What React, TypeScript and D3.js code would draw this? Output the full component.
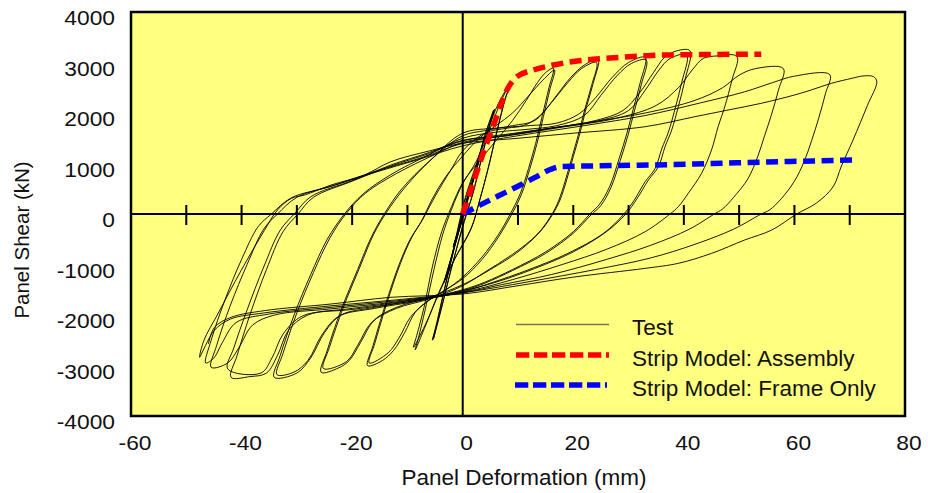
import React from "react";
import * as d3 from "d3";

type P = [number, number];

// Axis ticks
const xTickLabels = [-60, -40, -20, 0, 20, 40, 60, 80];
const yTickLabels = [-4000, -3000, -2000, -1000, 0, 1000, 2000, 3000, 4000];
const xMinorTicks = [-50, -40, -30, -20, -10, 10, 20, 30, 40, 50, 60, 70];

// Strip model curves [mm, kN]
const assembly: P[] = [
  [0, 0], [2, 650], [4, 1300], [5.5, 1730], [7, 2200], [8, 2455], [9.8, 2719],
  [12.8, 2851], [16.4, 2950], [20, 3020], [23.6, 3063], [28.5, 3102], [34, 3140],
  [42, 3155], [54, 3165],
];
const frameOnly: P[] = [
  [0, 0], [3, 170], [6.5, 360], [9.8, 540], [13, 720], [16.4, 905], [17.6, 937],
  [25, 955], [34, 970], [45, 1000], [55, 1030], [65, 1055], [70.5, 1070],
];

// Test record, cycle by cycle [mm, kN]
const testA: P[] = [
  [0, 0], [0.8, 300], [1.6, 600], [0.9, 330], [0, 20], [-0.8, -310], [-1.7, -640], [-0.9, -350], [0, -30],
  [0.8, 320], [1.7, 620], [0.9, 340], [0, 30], [-0.8, -320], [-1.7, -650], [-0.8, -320], [0, -20],
];
const testB: P[] = [
  [1.6, 540], [3.2, 1150], [2.3, 860], [1, 360], [-0.3, -180], [-1.8, -750], [-3.3, -1330], [-2.3, -980], [-1, -470], [0, -60],
  [1.7, 580], [3.3, 1180], [2.4, 880], [1.1, 390], [-0.2, -150], [-1.7, -720], [-3.4, -1360], [-2.4, -1000], [-1.1, -490], [0, -80],
];
const testC: P[] = [
  [2, 700], [4, 1550], [5.6, 2060], [4.7, 1700], [3.3, 1050], [1.8, 400], [0.3, -150], [-2, -1050], [-3.8, -1850], [-5.3, -2480],
  [-4.6, -2150], [-3.4, -1550], [-2, -900], [-0.6, -200], [0.5, 300],
  [2.3, 900], [4.2, 1620], [5.8, 2080], [4.9, 1740], [3.4, 1100], [1.9, 420], [0.3, -120], [-2.1, -1100], [-4, -1920], [-5.5, -2500],
  [-4.8, -2200], [-3.6, -1620], [-2.2, -950], [-0.8, -250], [0.4, 300],
];
const testD: P[] = [
  [2.5, 1000], [4.5, 1650], [6.5, 2200], [8.5, 2560], [7.6, 2250], [6.2, 1650], [4.6, 900], [3, 250], [1.5, -300], [-1.5, -900],
  [-4.5, -1600], [-6.5, -2150], [-8.6, -2690], [-8.0, -2450], [-6.8, -1900], [-5.2, -1100], [-3.6, -400], [-2, 100], [0, 600],
  [2.5, 1050], [5, 1700], [7, 2250], [8.6, 2580], [7.7, 2280], [6.3, 1680], [4.7, 950], [3.1, 280], [1.6, -260], [-1.4, -880],
  [-4.2, -1550], [-6.8, -2200], [-8.9, -2640], [-8.3, -2400], [-7, -1850], [-5.5, -1050], [-3.8, -350], [-2, 150], [0, 620],
];
const testE: P[] = [
  [3, 1050], [6, 1450], [9, 1850], [11.5, 2250], [13.5, 2600], [15, 2800], [16.4, 2885], [15.6, 2500], [14.4, 1950], [13.2, 1400],
  [11.9, 900], [10.4, 400], [8.6, 0], [6.5, -400], [3.5, -850], [0, -1250], [-3, -1500], [-6, -1700], [-8.6, -1950], [-10.5, -2350],
  [-12.5, -2700], [-14.5, -2900], [-17.2, -3003], [-16.2, -2600], [-14, -1800], [-11.5, -1000], [-9.5, -500], [-7.5, -150], [-5.5, 300], [-3, 750],
  [0, 1150],
  [3, 1500], [6, 1750], [9, 2000], [12, 2350], [14.5, 2650], [16.6, 2850], [15.8, 2480], [14.6, 1930], [13.4, 1380], [12.1, 880],
  [10.6, 380], [8.8, -20], [6.5, -450], [3.5, -900], [0, -1280], [-4, -1560], [-7, -1780], [-9.5, -2050], [-11.5, -2450], [-13.5, -2750],
  [-16.9, -2950], [-15.9, -2560], [-13.7, -1760], [-11.2, -960], [-9.2, -460], [-7.2, -100], [-5, 350], [-2, 900], [0, 1250],
];
const testF: P[] = [
  [4, 1600], [8, 1700], [11, 1750], [14, 1950], [17, 2350], [19.5, 2700], [22, 2950], [24.5, 3063], [23.6, 2588], [22.4, 2125],
  [21.2, 1598], [20, 1135], [18.8, 673], [17.6, 277], [16.3, 0], [14, -350], [10, -750], [5, -1100], [0, -1400], [-6, -1650],
  [-12, -1850], [-16, -2100], [-18.5, -2550], [-20.5, -2900], [-22.5, -3050], [-25.6, -3135], [-24.5, -2700], [-22, -1900], [-19, -1100], [-16.5, -450],
  [-14.2, 0], [-11, 500], [-6, 1050], [0, 1550],
  [4, 1650], [9, 1750], [13, 1850], [16, 2200], [19, 2600], [21.5, 2880], [24.2, 3000], [23.3, 2540], [22.1, 2080], [20.9, 1560],
  [19.7, 1100], [18.5, 640], [17.3, 250], [16, -30], [13.5, -400], [9, -800], [4, -1150], [0, -1420], [-6, -1680], [-12, -1870],
  [-16.5, -2150], [-19, -2600], [-21, -2920], [-25.2, -3060], [-24.1, -2640], [-21.6, -1850], [-18.6, -1050], [-16.1, -400], [-13.8, 30], [-10.5, 520],
  [-5.5, 1100], [0, 1600],
];
const testG: P[] = [
  [6, 1700], [12, 1750], [17, 1800], [21, 1980], [24, 2300], [27, 2700], [30, 3000], [33, 3100], [32.1, 2600], [30.9, 2100],
  [29.7, 1600], [28.3, 1100], [26.6, 550], [24.8, 200], [23, 0], [20, -350], [15, -750], [9, -1100], [4, -1350], [0, -1500],
  [-8, -1700], [-16, -1850], [-22, -2000], [-25, -2350], [-27.5, -2850], [-30, -3150], [-34.1, -3234], [-33, -2800], [-30.5, -2000], [-27.5, -1200],
  [-24.5, -500], [-21.4, 0], [-18, 400], [-13, 780], [-6, 1180], [0, 1500],
  [6, 1620], [12, 1680], [17, 1750], [22, 1950], [25, 2350], [28, 2750], [30.5, 2980], [33.2, 3050], [32.3, 2560], [31.1, 2060],
  [29.9, 1560], [28.5, 1060], [26.8, 520], [25, 170], [23.2, -20], [20, -380], [15, -780], [9, -1120], [4, -1370], [0, -1520],
  [-8, -1720], [-16, -1870], [-22.5, -2030], [-25.5, -2400], [-28, -2900], [-30.5, -3130], [-33.6, -3180], [-32.5, -2760], [-30, -1960], [-27, -1160],
  [-24, -470], [-21, 20], [-17.5, 420], [-12, 800], [-5, 1180], [0, 1420],
];
const testH: P[] = [
  [8, 1550], [16, 1700], [24, 1850], [29, 2050], [32, 2400], [34.5, 2800], [36.5, 3100], [38.7, 3230], [41.1, 3234], [40.2, 2653],
  [39, 2125], [37.8, 1663], [36.6, 1333], [35.4, 937], [33.6, 673], [31.5, 300], [29.5, 0], [26, -350], [20, -750], [13, -1080],
  [6, -1350], [0, -1520], [-10, -1720], [-20, -1870], [-28, -2000], [-31.5, -2300], [-33.5, -2800], [-35.5, -3150], [-38.5, -3220], [-41.9, -3234],
  [-40.8, -2800], [-38.5, -2000], [-35.5, -1100], [-32.5, -350], [-29.8, 0], [-27, 330], [-20, 650], [-13, 950], [-6, 1200], [0, 1450],
  [8, 1580], [16, 1700], [24, 1830], [30, 2050], [33, 2450], [35.5, 2850], [37.5, 3080], [40.5, 3150], [39.6, 2600], [38.4, 2080],
  [37.2, 1620], [36, 1290], [34.8, 900], [33, 640], [31, 270], [29, -20], [25.5, -380], [19, -780], [12, -1100], [5, -1370],
  [0, -1540], [-10, -1740], [-20, -1890], [-29, -2020], [-32.5, -2380], [-34.5, -2850], [-36.5, -3150], [-42.5, -3069], [-41.4, -2650], [-39, -1900],
  [-36, -1050], [-33, -320], [-30.3, 20], [-27.5, 340], [-20, 660], [-13, 970], [-6, 1220], [0, 1460],
];
const testI: P[] = [
  [8, 1550], [18, 1720], [28, 1900], [35, 2150], [39, 2500], [41.5, 2850], [43.5, 3080], [46, 3130], [49.6, 3120], [48.7, 2653],
  [47.4, 2125], [46.2, 1729], [45, 1267], [43.2, 806], [40.8, 410], [39, 145], [37.5, 0], [33, -350], [26, -700], [18, -1000],
  [9, -1300], [0, -1550], [-12, -1740], [-24, -1880], [-34, -2000], [-38, -2200], [-40.5, -2650], [-42.5, -2950], [-45.5, -3036], [-44.5, -2600],
  [-42, -1800], [-39, -1000], [-36, -300], [-33.5, 0], [-30, 330], [-23, 580], [-15, 870], [-7, 1130], [0, 1400],
];
const testJ: P[] = [
  [10, 1600], [22, 1800], [33, 2000], [42, 2250], [47, 2500], [50, 2750], [53, 2880], [58, 2880], [57.1, 2450], [55.8, 1950],
  [54.6, 1550], [53.4, 1150], [51.6, 700], [49, 330], [47, 100], [45.5, 0], [41, -300], [34, -620], [26, -900], [16, -1200],
  [7, -1400], [0, -1560], [-12, -1720], [-24, -1850], [-35, -1980], [-41, -2150], [-43.5, -2550], [-45, -2850], [-46.5, -2950], [-45.5, -2500],
  [-43, -1700], [-40, -900], [-37, -250], [-34.6, 0], [-31, 320], [-24, 540], [-16, 820], [-8, 1080], [0, 1350],
];
const testK: P[] = [
  [10, 1550], [22, 1750], [33, 1950], [43, 2200], [51, 2420], [56, 2600], [60, 2730], [66.4, 2760], [65.6, 2380], [64.4, 1900],
  [63.1, 1450], [61.8, 1050], [60, 650], [57.6, 300], [55.5, 80], [54, 0], [49, -300], [42, -600], [34, -870], [24, -1100],
  [12, -1340], [0, -1560], [-12, -1700], [-24, -1820], [-36, -1960], [-42, -2080], [-44.9, -2300], [-46.5, -2600], [-47.6, -2838], [-46.8, -2500],
  [-44.3, -1980], [-40.1, -1122], [-35.9, -330], [-33.5, 80], [-31, 310], [-28.6, 376], [-23.8, 574], [-17.8, 772], [-13, 1036], [-6, 1250],
  [0, 1400],
];
const testL: P[] = [
  [10, 1500], [20, 1600], [33, 1729], [42, 1927], [48, 2059], [54, 2192], [60, 2356], [63, 2455], [66.7, 2588], [70.4, 2687],
  [72.4, 2733], [74.3, 2720], [74.9, 2620], [73.2, 2150], [70.6, 1465], [68.5, 950], [67, 540], [64, 218], [60.4, 0], [55.9, -317],
  [51, -515], [45, -780], [39, -977], [33, -1076], [20, -1250], [10, -1420], [0, -1584], [-13, -1650], [-23.8, -1782], [-35.9, -1914],
  [-41.9, -2046], [-44.9, -2244], [-46, -2574],
];
const testCycles: P[][] = [testA, testB, testC, testD, testE, testF, testG, testH, testI, testJ, testK, testL];

const legendItems = ["Test", "Strip Model: Assembly", "Strip Model: Frame Only"];

const W = 928;
const H = 493;
const L = 131, R = 905, T = 12, B = 416;
const FONT = "'Liberation Sans', Arial, Helvetica, sans-serif";

export default function App() {
  const x = d3.scaleLinear().domain([-60, 80]).range([L, R]);
  const y = d3.scaleLinear().domain([-4000, 4000]).range([B, T]);
  const line = d3
    .line<P>()
    .x((d) => x(d[0]))
    .y((d) => y(d[1]))
    .curve(d3.curveCatmullRom.alpha(0.5));
  const smooth = d3.line<P>().x((d) => x(d[0])).y((d) => y(d[1])).curve(d3.curveMonotoneX);
  const testPath = line(testCycles.flat()) || "";
  const dash = "12 6.5";
  const legendY = [324.5, 355, 385];
  const legendTextY = [335, 365.5, 395.5];

  return (
    <svg width={W} height={H} style={{ position: "absolute", left: 0, top: 0, background: "#fff" }}>
      <rect x={L} y={T} width={R - L} height={B - T} fill="#FFFF80" />
      {/* zero axes */}
      <line x1={x(0)} x2={x(0)} y1={T} y2={B} stroke="#000" strokeWidth={2} />
      <line x1={L} x2={R} y1={y(0)} y2={y(0)} stroke="#000" strokeWidth={2} />
      {xMinorTicks.map((t) => (
        <line key={t} x1={x(t)} x2={x(t)} y1={y(0) - 9} y2={y(0) + 11} stroke="#000" strokeWidth={2} />
      ))}
      {/* test data */}
      <path d={testPath} fill="none" stroke="#000" strokeWidth={0.9} strokeLinejoin="round" />
      {/* models */}
      <path d={smooth(frameOnly) || ""} fill="none" stroke="#0000FF" strokeWidth={5.5} strokeDasharray={dash} />
      <path d={smooth(assembly) || ""} fill="none" stroke="#FF0000" strokeWidth={5.5} strokeDasharray={dash} />
      {/* frame */}
      <rect x={L} y={T} width={R - L} height={B - T} fill="none" stroke="#000" strokeWidth={2.5} />
      {/* tick labels */}
      {xTickLabels.map((t) => (
        <g key={t} transform={`translate(${x(t) + 4},450) scale(1.14,1)`}>
          <text textAnchor="middle" fontFamily={FONT} fontSize={20} fill="#111">{t}</text>
        </g>
      ))}
      {yTickLabels.map((t) => (
        <g key={t} transform={`translate(115,${y(t) + 13}) scale(1.14,1)`}>
          <text textAnchor="end" fontFamily={FONT} fontSize={20} fill="#111">{t}</text>
        </g>
      ))}
      {/* axis titles */}
      <text x={524} y={485} textAnchor="middle" fontFamily={FONT} fontSize={22.5} fill="#111">Panel Deformation (mm)</text>
      <text transform="translate(29,240) rotate(-90)" textAnchor="middle" fontFamily={FONT} fontSize={20.5} fill="#111">Panel Shear (kN)</text>
      {/* legend */}
      <line x1={516} x2={609} y1={legendY[0]} y2={legendY[0]} stroke="#77775a" strokeWidth={1.3} />
      <line x1={516} x2={609} y1={legendY[1]} y2={legendY[1]} stroke="#FF0000" strokeWidth={5.5} strokeDasharray="13.3 4.7" />
      <line x1={515} x2={607} y1={legendY[2]} y2={legendY[2]} stroke="#0000FF" strokeWidth={5.5} strokeDasharray="13.3 4.7" />
      {legendItems.map((s, i) => (
        <text key={s} x={632} y={legendTextY[i]} fontFamily={FONT} fontSize={22.5} fill="#111">{s}</text>
      ))}
    </svg>
  );
}
